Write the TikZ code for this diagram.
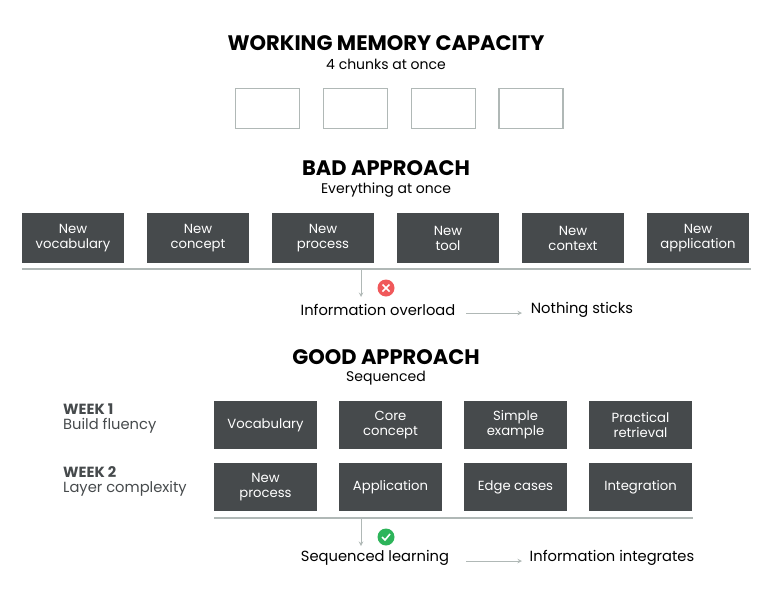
\documentclass[tikz,border=0pt]{standalone}
\usepackage{fontspec}
\setmainfont{Poppins}
\usetikzlibrary{positioning,arrows}
\definecolor{dark}{HTML}{464A4C}
\definecolor{rule}{HTML}{B0B8B6}
\definecolor{bad}{HTML}{F0585A}
\definecolor{good}{HTML}{2DB45A}
\begin{document}
\begin{tikzpicture}[x=1pt,y=-1pt,
  slot/.style={draw=rule,line width=1.5pt,minimum width=64pt,minimum height=40pt},
  block/.style={fill=dark,text=white,align=center,font=\fontsize{13.2}{15}\selectfont,minimum width=102pt,minimum height=50pt,inner sep=2pt},
  wblock/.style={block,minimum width=103pt,minimum height=48pt},
  title/.style={font=\fontsize{21}{24}\selectfont\bfseries},
  sub/.style={font=\fontsize{14}{16}\selectfont},
  txt/.style={font=\fontsize{14.7}{17}\selectfont},
  week/.style={anchor=west,font=\fontsize{14.7}{17}\selectfont,text=dark,align=left,inner sep=0pt},
  arrow/.style={draw=rule,line width=1pt,->,>=stealth}]
  \useasboundingbox (0,0) rectangle (769,600);

  \node[title] (wmc) at (386,43) {WORKING MEMORY CAPACITY};
  \node[sub] (wmcsub) at (386,64) {4 chunks at once};
  \foreach \x [count=\n] in {267.5,355.5,443.5,531} {
    \node[slot] (s\n) at (\x,108.5) {};
  }

  \node[title] (bad) at (386,168) {BAD APPROACH};
  \node[sub] (badsub) at (386,190) {Everything at once};
  \foreach \t [count=\n] in {New\\vocabulary,New\\concept,New\\process,New\\tool,New\\context,New\\application} {
    \node[block] (b\n) at ({73+125*(\n-1)},238) {\t};
  }
  \coordinate (bl) at (22,269);
  \coordinate (br) at (751,269);
  \draw[rule,line width=1.5pt] (bl) -- (br);
  \coordinate (bt) at (361,269);
  \coordinate (bb) at (361,297);
  \draw[arrow] (bt) -- (bb);
  \node[circle,fill=bad,minimum size=17pt,inner sep=0pt] (cross) at (386,288) {};
  \draw[white,line width=1.5pt] ([shift={(-3.5,-3.5)}]cross.center) -- ([shift={(3.5,3.5)}]cross.center)
    ([shift={(-3.5,3.5)}]cross.center) -- ([shift={(3.5,-3.5)}]cross.center);
  \node[txt] (overload) at (378,310) {Information overload};
  \node[txt] (sticks) at (582,310) {Nothing sticks};
  \coordinate (o1) at (466,313);
  \coordinate (o2) at (522,313);
  \draw[arrow] (o1) -- (o2);

  \node[title] (good) at (386,357) {GOOD APPROACH};
  \node[sub] (goodsub) at (386,378) {Sequenced};
  \node[week] (w1) at (63,419) {\textbf{WEEK 1}\\[-2pt]Build fluency};
  \node[week] (w2) at (63,481) {\textbf{WEEK 2}\\[-2pt]Layer complexity};
  \foreach \t [count=\n] in {Vocabulary,Core\\concept,Simple\\example,Practical\\retrieval} {
    \node[wblock] (g\n) at ({265.5+125*(\n-1)},425) {\t};
  }
  \foreach \t [count=\n] in {New\\process,Application,Edge cases,Integration} {
    \node[wblock] (h\n) at ({265.5+125*(\n-1)},487) {\t};
  }
  \coordinate (gl) at (214,518);
  \coordinate (gr) at (693,518);
  \draw[rule,line width=1.5pt] (gl) -- (gr);
  \coordinate (gt) at (361,518);
  \coordinate (gb) at (361,546);
  \draw[arrow] (gt) -- (gb);
  \node[circle,fill=good,minimum size=17pt,inner sep=0pt] (check) at (386,537) {};
  \draw[white,line width=1.6pt] ([shift={(-4,0)}]check.center) -- ([shift={(-1,3)}]check.center) -- ([shift={(4,-3)}]check.center);
  \node[txt] (seq) at (375,558) {Sequenced learning};
  \node[txt] (integ) at (612,558) {Information integrates};
  \coordinate (q1) at (466,561);
  \coordinate (q2) at (522,561);
  \draw[arrow] (q1) -- (q2);
\end{tikzpicture}
\end{document}
